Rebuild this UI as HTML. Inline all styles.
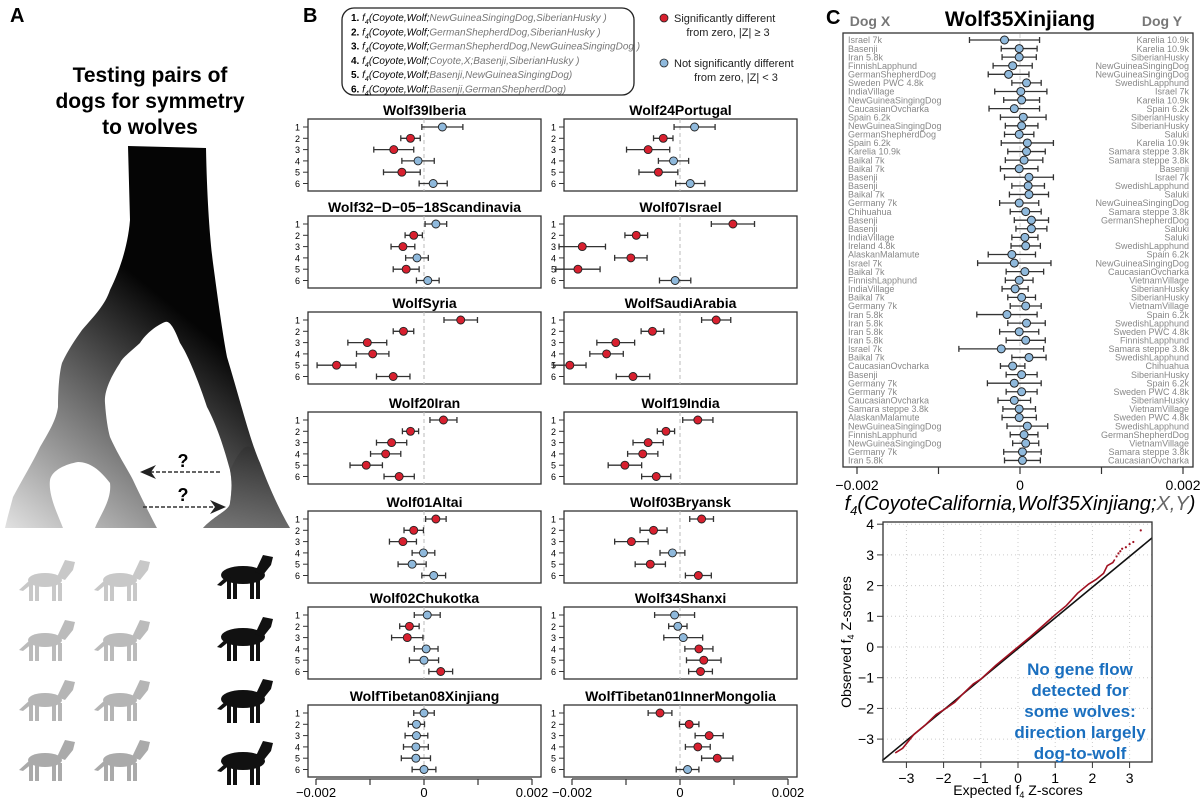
<!DOCTYPE html>
<html><head><meta charset="utf-8"><style>
body{margin:0;background:#fff;}
svg{display:block;font-family:"Liberation Sans",sans-serif;}
</style></head><body>
<svg id="fig" width="1200" height="800" viewBox="0 0 1200 800">
<defs>
<linearGradient id="treeGrad" gradientUnits="userSpaceOnUse" x1="190" y1="320" x2="10" y2="540">
<stop offset="0" stop-color="#050505"/><stop offset="0.35" stop-color="#555"/><stop offset="1" stop-color="#e6e6e6"/>
</linearGradient>
<linearGradient id="treeGrad2" gradientUnits="userSpaceOnUse" x1="240" y1="400" x2="250" y2="530">
<stop offset="0" stop-color="#050505"/><stop offset="1" stop-color="#777"/>
</linearGradient>
</defs>
<g>
<text x="10" y="22" font-size="20" font-weight="bold">A</text>
<text x="150" y="82" font-size="21" font-weight="bold" text-anchor="middle"><tspan x="150">Testing pairs of</tspan><tspan x="150" dy="26">dogs for symmetry</tspan><tspan x="150" dy="26">to wolves</tspan></text>
<path fill="url(#treeGrad)" d="M128,146 L206,148 C207,200 210,240 213,263 C218,300 222,330 227,357 C240,400 250,440 260,463 C270,490 282,515 290,528 L203,528 C215,515 230,510 230,503 C232,490 232,480 230,470 C222,440 214,420 207,407 C198,380 188,355 180,343 C175,330 170,320 165,322 C155,326 145,335 140,343 C130,352 122,358 120,363 C110,378 104,392 105,403 C106,418 108,430 110,437 C118,455 128,470 133,480 C140,495 150,515 157,528 L95,528 C100,515 112,500 110,483 C100,470 90,462 78,462 C66,464 52,470 50,480 C48,495 58,515 63,528 L5,528 C8,515 11,505 13,497 C22,480 33,462 40,447 C50,430 56,420 58,407 C58,385 60,370 62,363 C68,350 75,340 82,330 C95,315 105,305 110,290 C120,270 128,245 130,220 Z"/>
<path fill="url(#treeGrad2)" opacity="0.6" d="M230,470 C245,440 250,440 260,463 C270,490 282,515 290,528 L203,528 C215,515 230,510 230,503 C232,490 232,480 230,470 Z"/>
<g>
<line x1="220" y1="472" x2="150" y2="472" stroke="#333" stroke-width="1.6" stroke-dasharray="4,2"/>
<path d="M140,472 L156,465 L151,472 L156,479 Z" fill="#222"/>
<text x="183" y="467" font-size="18" font-weight="bold" text-anchor="middle">?</text>
</g>
<g>
<line x1="143" y1="507" x2="215" y2="507" stroke="#333" stroke-width="1.6" stroke-dasharray="4,2"/>
<path d="M226,507 L210,500 L215,507 L210,514 Z" fill="#222"/>
<text x="183" y="501" font-size="18" font-weight="bold" text-anchor="middle">?</text>
</g>
<g id="silhouettes"></g>
</g>
<g id="panelB">
<text x="303" y="22" font-size="20" font-weight="bold">B</text>
<rect x="342" y="8" width="292" height="87" rx="12" fill="none" stroke="#222" stroke-width="1.3"/>
<g id="keyText" font-size="10" font-style="italic"></g>
<g>
<circle cx="664" cy="18" r="4" fill="#d8202f" stroke="#222" stroke-width="0.8"/>
<text x="674" y="22" font-size="11" fill="#222">Significantly different</text>
<text x="728" y="36" font-size="11" fill="#222" text-anchor="middle">from zero, |Z| ≥ 3</text>
</g>
<g>
<circle cx="664" cy="63" r="4" fill="#8fb9dc" stroke="#222" stroke-width="0.8"/>
<text x="674" y="67" font-size="11" fill="#222">Not significantly different</text>
<text x="736" y="81" font-size="11" fill="#222" text-anchor="middle">from zero, |Z| &lt; 3</text>
</g>
</g>
<g id="panelC">
<text x="826" y="24" font-size="20" font-weight="bold">C</text>
<text x="1020" y="26" font-size="21" font-weight="bold" text-anchor="middle">Wolf35Xinjiang</text>
<text x="870" y="26" font-size="14" font-weight="bold" fill="#777" text-anchor="middle">Dog X</text>
<text x="1162" y="26" font-size="14" font-weight="bold" fill="#777" text-anchor="middle">Dog Y</text>
<rect x="843" y="33" width="350" height="434" fill="none" stroke="#333" stroke-width="1.3"/>
<text x="1020" y="510" font-size="20" font-style="italic" text-anchor="middle">f<tspan font-size="13" dy="5">4</tspan><tspan dy="-5">(CoyoteCalifornia,Wolf35Xinjiang;</tspan><tspan fill="#666">X,Y</tspan>)</text>
</g>
<g id="qq"></g>
</svg>
<script>
// ---------- Panel B data (values in units of 0.001) ----------
const wolfNames = ["Wolf39Iberia","Wolf24Portugal","Wolf32\u2212D\u221205\u221218Scandinavia","Wolf07Israel","WolfSyria","WolfSaudiArabia","Wolf20Iran","Wolf19India","Wolf01Altai","Wolf03Bryansk","Wolf02Chukotka","Wolf34Shanxi","WolfTibetan08Xinjiang","WolfTibetan01InnerMongolia"];
const f4Values = [
[0.34,-0.25,-0.56,-0.11,-0.41,0.17],
[0.27,-0.31,-0.59,-0.12,-0.40,0.19],
[0.22,-0.19,-0.39,-0.13,-0.33,0.07],
[0.98,-0.81,-1.81,-0.91,-1.89,-0.09],
[0.68,-0.38,-1.05,-0.95,-1.62,-0.57],
[0.67,-0.51,-1.19,-1.36,-2.04,-0.87],
[0.36,-0.25,-0.60,-0.71,-1.07,-0.46],
[0.33,-0.26,-0.59,-0.69,-1.02,-0.44],
[0.22,-0.19,-0.39,-0.01,-0.22,0.18],
[0.40,-0.49,-0.90,-0.14,-0.55,0.34],
[0.06,-0.27,-0.31,0.04,0.00,0.31],
[-0.10,-0.04,0.06,0.35,0.44,0.38],
[0.00,-0.14,-0.14,-0.15,-0.15,0.00],
[-0.37,0.17,0.54,0.33,0.69,0.14]];
const f4Errors = [
[0.38,0.18,0.37,0.30,0.34,0.26],
[0.38,0.18,0.40,0.28,0.36,0.27],
[0.20,0.16,0.22,0.21,0.24,0.21],
[0.40,0.21,0.43,0.30,0.41,0.29],
[0.31,0.19,0.36,0.30,0.36,0.31],
[0.27,0.21,0.35,0.31,0.30,0.31],
[0.25,0.15,0.28,0.28,0.30,0.28],
[0.28,0.16,0.28,0.28,0.31,0.27],
[0.19,0.18,0.25,0.21,0.26,0.22],
[0.22,0.25,0.31,0.23,0.28,0.24],
[0.24,0.18,0.29,0.22,0.27,0.22],
[0.37,0.17,0.36,0.26,0.32,0.22],
[0.19,0.15,0.21,0.23,0.27,0.22],
[0.22,0.18,0.26,0.23,0.29,0.21]];
const significant = [
[0,1,1,0,1,0],[0,1,1,0,1,0],[0,1,1,0,1,0],[1,1,1,1,1,0],[1,1,1,1,1,1],[1,1,1,1,1,1],[1,1,1,1,1,1],
[1,1,1,1,1,1],[1,1,1,0,0,0],[1,1,1,0,1,1],[0,1,1,0,0,1],[0,0,0,1,1,1],[0,0,0,0,0,0],[1,1,1,1,1,0]];
const bTicks = [-2,-1,0,1,2];
const bTickLabels = ["-0.002","","0","","0.002"];
const keyLines = [["1.","NewGuineaSingingDog,SiberianHusky )"],["2.","GermanShepherdDog,SiberianHusky )"],["3.","GermanShepherdDog,NewGuineaSingingDog )"],["4.","Coyote,X;Basenji,SiberianHusky )"],["5.","Basenji,NewGuineaSingingDog)"],["6.","Basenji,GermanShepherdDog)"]];

// ---------- Panel C data (values, half-errors in units of 0.001) ----------
const dogX = ["Israel 7k","Basenji","Iran 5.8k","FinnishLapphund","GermanShepherdDog","Sweden PWC 4.8k","IndiaVillage","NewGuineaSingingDog","CaucasianOvcharka","Spain 6.2k","NewGuineaSingingDog","GermanShepherdDog","Spain 6.2k","Karelia 10.9k","Baikal 7k","Baikal 7k","Basenji","Basenji","Baikal 7k","Germany 7k","Chihuahua","Basenji","Basenji","IndiaVillage","Ireland 4.8k","AlaskanMalamute","Israel 7k","Baikal 7k","FinnishLapphund","IndiaVillage","Baikal 7k","Germany 7k","Iran 5.8k","Iran 5.8k","Iran 5.8k","Iran 5.8k","Israel 7k","Baikal 7k","CaucasianOvcharka","Basenji","Germany 7k","Germany 7k","CaucasianOvcharka","Samara steppe 3.8k","AlaskanMalamute","NewGuineaSingingDog","FinnishLapphund","NewGuineaSingingDog","Germany 7k","Iran 5.8k"];
const dogY = ["Karelia 10.9k","Karelia 10.9k","SiberianHusky","NewGuineaSingingDog","NewGuineaSingingDog","SwedishLapphund","Israel 7k","Karelia 10.9k","Spain 6.2k","SiberianHusky","SiberianHusky","Saluki","Karelia 10.9k","Samara steppe 3.8k","Samara steppe 3.8k","Basenji","Israel 7k","SwedishLapphund","Saluki","NewGuineaSingingDog","Samara steppe 3.8k","GermanShepherdDog","Saluki","Saluki","SwedishLapphund","Spain 6.2k","NewGuineaSingingDog","CaucasianOvcharka","VietnamVillage","SiberianHusky","SiberianHusky","VietnamVillage","Spain 6.2k","SwedishLapphund","Sweden PWC 4.8k","FinnishLapphund","Samara steppe 3.8k","SwedishLapphund","Chihuahua","SiberianHusky","Spain 6.2k","Sweden PWC 4.8k","SiberianHusky","VietnamVillage","Sweden PWC 4.8k","SwedishLapphund","GermanShepherdDog","VietnamVillage","Samara steppe 3.8k","CaucasianOvcharka"];
const cValues = [-0.19,-0.01,-0.01,-0.09,-0.14,0.08,0.01,0.02,-0.07,0.04,0.02,-0.01,0.09,0.08,0.05,-0.01,0.11,0.10,0.11,-0.01,0.07,0.14,0.14,0.06,0.07,-0.10,-0.07,0.06,-0.01,-0.06,0.02,0.07,-0.16,0.08,-0.01,0.07,-0.23,0.11,-0.09,0.02,-0.07,0.02,-0.07,-0.01,-0.01,0.09,0.05,0.07,0.03,0.03];
const cErrors = [0.43,0.22,0.21,0.24,0.25,0.18,0.32,0.22,0.31,0.28,0.20,0.18,0.32,0.23,0.23,0.23,0.30,0.20,0.24,0.24,0.19,0.21,0.19,0.16,0.18,0.29,0.45,0.23,0.17,0.16,0.17,0.19,0.37,0.23,0.24,0.24,0.52,0.21,0.15,0.19,0.33,0.19,0.20,0.20,0.21,0.25,0.17,0.16,0.23,0.22];
const cTicks = [-2,-1,0,1,2];
const cTickLabels = ["\u22120.002","","0","","0.002"];

// ---------- QQ plot data ----------
const qqExpected = [-3.3,-3.1,-2.8,-2.5,-2.2,-2.0,-1.7,-1.5,-1.2,-1.0,-0.6,-0.3,0.0,0.3,0.6,1.0,1.3,1.6,1.9,2.1,2.3,2.4,2.55,2.6];
const qqObserved = [-3.45,-3.3,-2.85,-2.55,-2.2,-2.05,-1.8,-1.55,-1.2,-1.05,-0.6,-0.3,0.0,0.3,0.62,1.05,1.35,1.75,2.05,2.2,2.4,2.65,2.75,2.85];
const tailExpected = [2.65,2.7,2.75,2.8,2.9,3.0,3.1,3.3];
const tailObserved = [2.95,3.05,3.12,3.2,3.25,3.35,3.42,3.8];
const qqXTicks = [-3,-2,-1,0,1,2,3];
const qqYTicks = [-3,-2,-1,0,1,2,3,4];

const NS = "http://www.w3.org/2000/svg";
function mk(tag, attrs, parent){const e=document.createElementNS(NS,tag);for(const k in attrs)e.setAttribute(k,attrs[k]);parent.appendChild(e);return e;}

const kt=document.getElementById('keyText');
keyLines.forEach((l,i)=>{
  const t=mk('text',{x:351,y:21+i*14.3},kt);
  
  
  t.innerHTML='<tspan font-style="normal" font-weight="bold">'+l[0]+' </tspan>f<tspan font-size="7" dy="3">4</tspan><tspan dy="-3">(Coyote,Wolf;</tspan><tspan fill="#777">'+l[1]+'</tspan>';
});

const pB=document.getElementById('panelB');
const titleYs=[110,110,207,207,303,303,403,403,502,502,598,598,696,696];
const unitB=54;
wolfNames.forEach((name,p)=>{
  const col=p%2, x0=col?564:308, w=233, ty=titleYs[p], top=ty+9, h=72;
  const zero=x0+116;
  const sx=v=>zero+v*unitB;
  const g=mk('g',{},pB);
  
  
  const tt=mk('text',{x:x0+w/2,y:ty+5,'font-size':14,'font-weight':'bold','text-anchor':'middle'},g);
  tt.textContent=name;
  
  
  mk('rect',{x:x0,y:top,width:w,height:h,fill:'none',stroke:'#333','stroke-width':1.3},g);
  mk('line',{x1:sx(0),y1:top,x2:sx(0),y2:top+h,stroke:'#bbb','stroke-dasharray':'4,3'},g);
  f4Values[p].forEach((v,i)=>{
    const y=top+8+i*11.3, e=f4Errors[p][i];
    mk('line',{x1:x0-5,y1:y,x2:x0,y2:y,stroke:'#333'},g);
    const lb=mk('text',{x:x0-8,y:y+3.5,'font-size':9,'text-anchor':'end'},g);lb.textContent=i+1;
    const eb=mk('path',{d:`M${sx(v-e)},${y}H${sx(v+e)}M${sx(v-e)},${y-3}V${y+3}M${sx(v+e)},${y-3}V${y+3}`,stroke:'#333','stroke-width':1.3,fill:'none'},g);
    
    
    const c=mk('circle',{cx:sx(v),cy:y,r:4,fill:significant[p][i]?'#d8202f':'#8fb9dc',stroke:'#222','stroke-width':0.9},g);
    
    
  });
  if(p>=12){
    const ax=mk('g',{},g);
    
    
    const yb=top+h+2;
    mk('line',{x1:sx(bTicks[0]),y1:yb,x2:sx(bTicks[bTicks.length-1]),y2:yb,stroke:'#333','stroke-width':1.2},ax);
    bTicks.forEach((t,i)=>{
      mk('line',{x1:sx(t),y1:yb,x2:sx(t),y2:yb+6,stroke:'#333','stroke-width':1.2},ax);
      const tl=mk('text',{x:sx(t),y:yb+18,'font-size':13,'text-anchor':'middle'},ax);tl.textContent=bTickLabels[i].replace('-','\u2212');
    });
  }
});

const pC=document.getElementById('panelC');
const cZero=1020, unitC=81.5, sxC=v=>cZero+v*unitC;
mk('line',{x1:cZero,y1:34,x2:cZero,y2:466,stroke:'#ccc','stroke-dasharray':'4,3'},pC);
cValues.forEach((v,i)=>{
  const y=40+i*8.58,e=cErrors[i];
  const a=mk('text',{x:848,y:y+3.2,'font-size':9,fill:'#888'},pC);a.textContent=dogX[i];
  
  
  const b=mk('text',{x:1189,y:y+3.2,'font-size':9,fill:'#888','text-anchor':'end'},pC);b.textContent=dogY[i];
  
  
  const eb=mk('path',{d:`M${sxC(v-e)},${y}H${sxC(v+e)}M${sxC(v-e)},${y-3}V${y+3}M${sxC(v+e)},${y-3}V${y+3}`,stroke:'#333','stroke-width':1.3,fill:'none'},pC);
  
  
  const c=mk('circle',{cx:sxC(v),cy:y,r:4,fill:'#8fb9dc',stroke:'#222','stroke-width':1},pC);
  
  
});
cTicks.forEach((t,i)=>{
  mk('line',{x1:sxC(t),y1:467,x2:sxC(t),y2:474,stroke:'#333','stroke-width':1.2},pC);
  if(cTickLabels[i]){const tl=mk('text',{x:sxC(t),y:490,'font-size':14,'text-anchor':'middle'},pC);tl.textContent=cTickLabels[i];}
});

const qq=document.getElementById('qq');
const qx0=883,qx1=1152,qy0=522,qy1=762;
const qsx=v=>1018+v*37.2, qsy=v=>647-v*30.7;
qqXTicks.forEach(t=>mk('line',{x1:qsx(t),y1:qy0,x2:qsx(t),y2:qy1,stroke:'#ccc','stroke-dasharray':'1,3'},qq));
qqYTicks.forEach(t=>mk('line',{x1:qx0,y1:qsy(t),x2:qx1,y2:qsy(t),stroke:'#ccc','stroke-dasharray':'1,3'},qq));
const ref=mk('line',{x1:qsx(-3.65),y1:qsy(-3.7),x2:qsx(3.6),y2:qsy(3.55),stroke:'#111','stroke-width':1.6},qq);


const curve=mk('polyline',{points:qqExpected.map((x,i)=>qsx(x)+','+qsy(qqObserved[i])).join(' '),fill:'none',stroke:'#a01020','stroke-width':1.6},qq);


tailExpected.forEach((x,i)=>{
  const d=mk('circle',{cx:qsx(x),cy:qsy(tailObserved[i]),r:1.1,fill:'#a01020'},qq);
  
  
});
mk('rect',{x:qx0,y:qy0,width:qx1-qx0,height:qy1-qy0,fill:'none',stroke:'#333','stroke-width':1.3},qq);
qqXTicks.forEach(t=>{mk('line',{x1:qsx(t),y1:qy1,x2:qsx(t),y2:qy1+6,stroke:'#333'},qq);const l=mk('text',{x:qsx(t),y:qy1+21,'font-size':14,'text-anchor':'middle'},qq);l.textContent=String(t).replace('-','\u2212');});
qqYTicks.forEach(t=>{mk('line',{x1:qx0-6,y1:qsy(t),x2:qx0,y2:qsy(t),stroke:'#333'},qq);const l=mk('text',{x:qx0-9,y:qsy(t)+5,'font-size':14,'text-anchor':'end'},qq);l.textContent=String(t).replace('-','\u2212');});
const xl=mk('text',{x:1018,y:795,'font-size':14,'text-anchor':'middle'},qq);
xl.innerHTML='Expected f<tspan font-size="9" dy="3">4</tspan><tspan dy="-3"> Z-scores</tspan>';


const yl=mk('text',{x:0,y:0,'font-size':14,'text-anchor':'middle',transform:'translate(851,642) rotate(-90)'},qq);
yl.innerHTML='Observed f<tspan font-size="9" dy="3">4</tspan><tspan dy="-3"> Z-scores</tspan>';


const ann=mk('text',{'font-size':17,'font-weight':'bold',fill:'#1a6fbf','text-anchor':'middle'},qq);


["No gene flow","detected for","some wolves:","direction largely","dog-to-wolf"].forEach((s,i)=>{const t=mk('tspan',{x:1080,y:675+i*21},ann);t.textContent=s;});

const sil=document.getElementById('silhouettes');
const dogShades=['#c8c8c8','#bbb','#b5b5b5','#aaa'];
function animal(x,y,fill,wolf,name){
  const g=mk('g',{fill:fill},sil);
  
  
  mk('ellipse',{cx:x,cy:y,rx:wolf?22:17,ry:wolf?9:7},g);
  mk('path',{d:`M${x+12},${y-3} L${x+20},${y-20} L${x+30},${y-18} L${x+28},${y-10} L${x+20},${y}Z`},g);
  mk('path',{d:`M${x-15},${y} L${x-26},${y+10} L${x-22},${y+11} L${x-12},${y+3}Z`},g);
  [-14,-8,9,15].forEach(o=>mk('rect',{x:x+o-2,y:y+3,width:4,height:wolf?21:18},g));
}
for(let r=0;r<4;r++){
  animal(45,580+r*60,dogShades[r],false,'dog-silhouette');
  animal(120,580+r*60,dogShades[r],false,'dog-silhouette');
  animal(243,575+r*62,'#111',true,'wolf-silhouette');
}
</script>
</body></html>
